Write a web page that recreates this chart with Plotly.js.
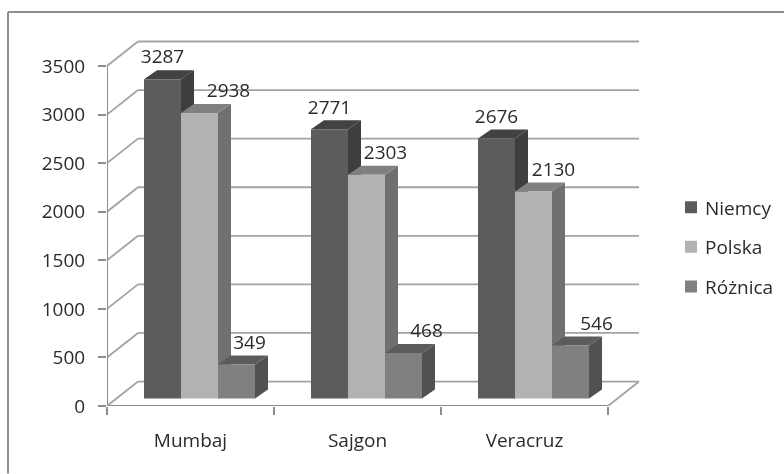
<!DOCTYPE html>
<html>
<head>
<meta charset="utf-8">
<script src="https://cdn.plot.ly/plotly-3.0.1.min.js"></script>
<style>
html,body{margin:0;padding:0;background:#fff}
#c{width:784px;height:474px;filter:blur(0.4px)}
.legend .legendpoints path{transform:translate(26px,0px)!important}
</style>
</head>
<body>
<div id="c"></div>
<script>
const categories = ["Mumbaj", "Sajgon", "Veracruz"];
const seriesNames = ["Niemcy", "Polska", "Różnica"];
const niemcy = [3287, 2771, 2676];
const polska = [2938, 2303, 2130];
const roznica = [349, 468, 546];
const yTicks = [0, 500, 1000, 1500, 2000, 2500, 3000, 3500];

const frontColors = ["#5c5c5c", "#b2b2b2", "#808080"];
const topColors = ["#424242", "#808080", "#5c5c5c"];
const sideColors = ["#3e3e3e", "#707070", "#515151"];
const labelShiftPx = [[0, 29, 13], [0, 19, 23], [0, 20, 26]];

const L = 107, T = 40, W = 535, H = 366.5;
const pxX = 167, pxY = 340.5 / 3500;
const xMax = W / pxX, yMax = H / pxY;
const wallX = 31 / pxX, wallY = 24.5 / pxY;
const depthX = 13 / pxX, depthY = 9 / pxY;
const barW = 37 / pxX, barBase = 7.5 / pxY, groupLeft = 37 / pxX;
const labelRise = 20.5 / pxY;
const grid = "#a3a3a3", axisC = "#8c8c8c";
const font = "'Open Sans', sans-serif";
const textC = "#2b2b2b";
const fs = 19;
const values = [niemcy, polska, roznica];

const line = (x0, y0, x1, y1, color, w) => ({type: "line", xref: "x", yref: "y", x0, y0, x1, y1, layer: "below", line: {color, width: w}});
const poly = (pts, color) => ({type: "path", xref: "x", yref: "y", layer: "below", line: {width: 0}, fillcolor: color,
  path: "M" + pts.map(p => p[0] + "," + p[1]).join("L") + "Z"});

const shapes = [];
yTicks.forEach(v => {
  shapes.push(line(0, v, wallX, v + wallY, grid, 1.8));
  shapes.push(line(wallX, v + wallY, 3 + wallX, v + wallY, grid, 1.8));
});
shapes.push(line(3, 0, 3 + wallX, wallY, grid, 1.8));
shapes.push(line(0, 0, 0, 3500, axisC, 2));
shapes.push(line(0, 0, 3, 0, axisC, 2));

categories.forEach((c, k) => {
  values.forEach((vals, s) => {
    const x0 = k + groupLeft + s * barW, x1 = x0 + barW, y1 = barBase + vals[k];
    shapes.push(poly([[x1, barBase], [x1 + depthX, barBase + depthY], [x1 + depthX, y1 + depthY], [x1, y1]], sideColors[s]));
    shapes.push(poly([[x0, y1], [x0 + depthX, y1 + depthY], [x1 + depthX, y1 + depthY], [x1, y1]], topColors[s]));
  });
});

const traces = values.map((vals, s) => ({
  type: "bar", name: seriesNames[s], legendgroup: seriesNames[s],
  x: categories.map((c, k) => k + groupLeft + (s + 0.5) * barW),
  y: vals, base: barBase, width: barW,
  marker: {color: frontColors[s], line: {width: 0}},
  hoverinfo: "name+y"
}));

const lx = [], ly = [], lt = [];
categories.forEach((c, k) => values.forEach((vals, s) => {
  lx.push(k + groupLeft + (s + 0.5) * barW + labelShiftPx[k][s] / pxX);
  ly.push(barBase + vals[k] + labelRise);
  lt.push(String(vals[k]));
}));
traces.push({type: "scatter", mode: "text", x: lx, y: ly, text: lt, textposition: "middle center",
  textfont: {family: font, size: fs, color: textC}, showlegend: false, cliponaxis: false, hoverinfo: "skip"});

// chart frame: only the left and top edges are visible, running off the picture
const px2x = p => (p - L) / W, px2y = p => (T + H - p) / H;
shapes.push({type: "line", xref: "paper", yref: "paper", x0: px2x(8), x1: px2x(8), y0: px2y(12), y1: px2y(474), layer: "below", line: {color: "#8e8e8e", width: 2}});
shapes.push({type: "line", xref: "paper", yref: "paper", x0: px2x(8), x1: px2x(784), y0: px2y(12), y1: px2y(12), layer: "below", line: {color: "#8e8e8e", width: 2}});

const layout = {
  width: 784, height: 474, autosize: false,
  margin: {l: L, t: T, r: 784 - L - W, b: 474 - T - H, pad: 0, autoexpand: false},
  paper_bgcolor: "#fff", plot_bgcolor: "rgba(0,0,0,0)",
  barmode: "overlay", showlegend: true, shapes,
  font: {family: font, color: textC, size: fs},
  xaxis: {range: [0, xMax], tickmode: "array", tickvals: [0.5, 1.5, 2.5], ticktext: categories, ticks: "",
    showgrid: false, zeroline: false, showline: false, ticklabelstandoff: 21, tickfont: {size: fs, color: textC},
    minor: {tickmode: "array", tickvals: [0, 1, 2, 3], ticks: "outside", ticklen: 8, tickwidth: 2, tickcolor: axisC, showgrid: false}},
  yaxis: {range: [0, yMax], tickmode: "array", tickvals: yTicks, ticks: "outside", ticklen: 8, tickwidth: 2, tickcolor: axisC,
    showgrid: false, zeroline: false, showline: false, ticklabelstandoff: 9, tickfont: {size: fs, color: textC}},
  legend: {x: (665 - L) / W, xanchor: "left", y: (T + H - 188.5) / H, yanchor: "top", tracegroupgap: 12,
    font: {size: fs, color: textC}, bgcolor: "rgba(0,0,0,0)", itemclick: false, itemdoubleclick: false}
};
Plotly.newPlot("c", traces, layout, {displayModeBar: false, staticPlot: true});
</script>
</body>
</html>
